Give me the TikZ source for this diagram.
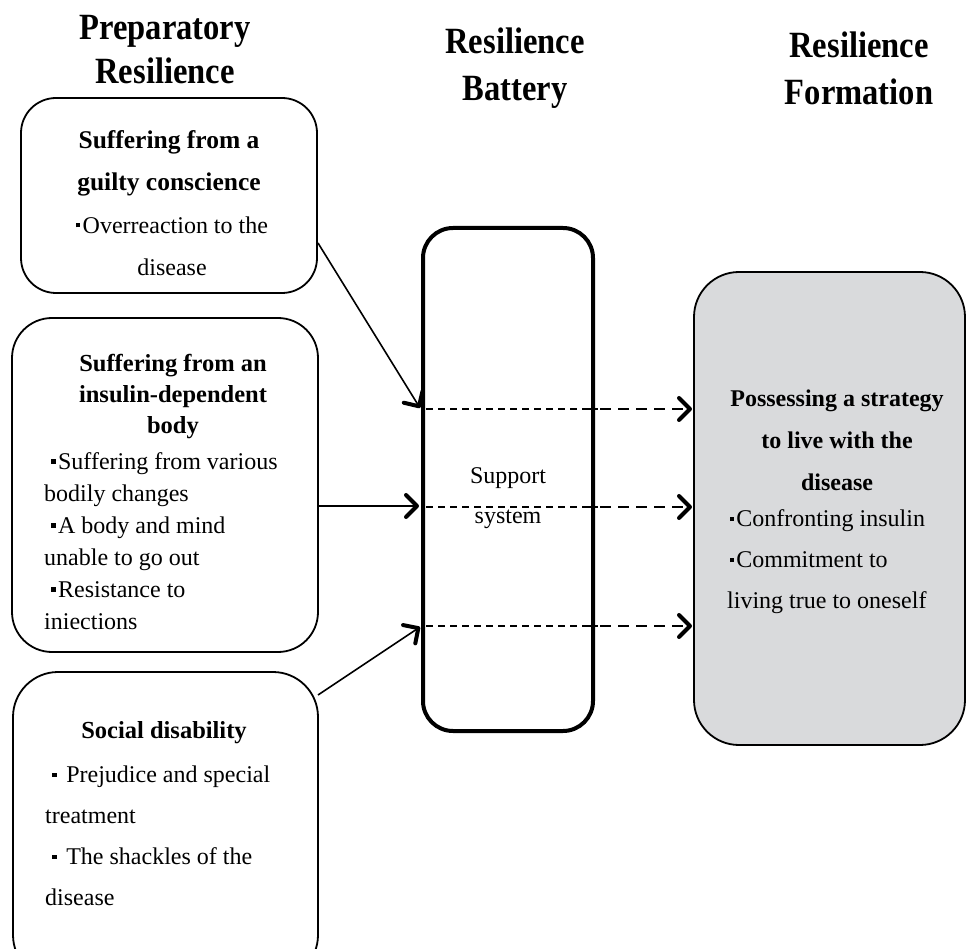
\documentclass[tikz,border=0pt]{standalone}
\usepackage{fontspec}
\setmainfont{Liberation Serif}
\newfontfamily\headfont[FakeStretch=0.88]{Liberation Serif}
\usetikzlibrary{arrows.meta}
\definecolor{boxgray}{HTML}{D9DADC}
\newcommand{\bul}{\rule[0.24em]{0.18em}{0.18em}\hspace{0.1em}}
\begin{document}
\begin{tikzpicture}[x=1pt,y=-1pt,
  head/.style={font={\headfont\bfseries\fontsize{37}{#1}\selectfont},align=center,inner sep=0pt},
  sidebox/.style={draw,line width=1.8pt,rounded corners=#1,inner sep=0pt},
  txt/.style={font={\fontsize{24}{#1}\selectfont},inner sep=0pt},
  btxt/.style={font={\bfseries\fontsize{25.5}{#1}\selectfont},inner sep=0pt},
  bstxt/.style={font={\bfseries\fontsize{24.5}{#1}\selectfont},inner sep=0pt},
  tip/.style={-{Straight Barb[length=11pt,width=22pt,line width=4pt,round]}},
  solidarrow/.style={line width=1.6pt,tip},
  innerdash/.style={line width=1.3pt,dash pattern=on 7pt off 5pt},
  outerdash/.style={line width=2.2pt,dash pattern=on 11pt off 7pt,tip}]
\useasboundingbox (0,0) rectangle (967,949);
\clip (0,0) rectangle (967,949);

% headers
\node[head=44] (h1) at (165,50) {Preparatory\\Resilience};
\node[head=47] (h2) at (515,68.5) {Resilience\\Battery};
\node[head=47] (h3) at (859,68.5) {Resilience\\Formation};

% left boxes
\node[sidebox=35,minimum width=296pt,minimum height=195pt] (b1) at (169,195.5) {};
\node[sidebox=40,minimum width=306pt,minimum height=334pt] (b2) at (165,485) {};
\node[sidebox=45,minimum width=305pt,minimum height=308pt] (b3) at (165.5,826) {};

% middle box
\node[draw,line width=4pt,rounded corners=30pt,minimum width=170pt,minimum height=503pt,inner sep=0pt] (sup) at (508,479.5) {};
% right box
\node[draw,line width=1.8pt,fill=boxgray,rounded corners=45pt,minimum width=271pt,minimum height=473pt,inner sep=0pt] (str) at (829.5,508.5) {};

% texts
\node[btxt=42,align=center] (t1a) at (169,163) {Suffering from a\\guilty conscience};
\node[txt=42,align=center] (t1b) at (172,246) {\bul Overreaction to the\\disease};
\node[bstxt=31,align=center] (t2a) at (173,397) {Suffering from an\\insulin-dependent\\body};
\node[txt=32,align=left,anchor=west] (t2b) at (44,541) {\hspace*{0.3em}\bul Suffering from various\\bodily changes\\\hspace*{0.3em}\bul A body and mind\\unable to go out\\\hspace*{0.3em}\bul Resistance to\\iniections};
\node[bstxt=42,align=center] (t3a) at (164,733) {Social disability};
\node[txt=41,align=left,anchor=west] (t3b) at (45,836) {\hspace*{0.3em}\bul\hspace{0.3em}Prejudice and special\\treatment\\\hspace*{0.3em}\bul\hspace{0.3em}The shackles of the\\disease};
\node[txt=40,align=center] (t5) at (508,498) {Support\\system};
\node[font={\bfseries\fontsize{24}{42}\selectfont},inner sep=0pt,align=center] (t4a) at (837,440) {Possessing a strategy\\to live with the\\disease};
\node[txt=41,align=left,anchor=west] (t4b) at (727,562) {\hspace*{0.1em}\bul Confronting insulin\\\hspace*{0.1em}\bul Commitment to\\living true to oneself};

% connector points
\coordinate (a1s) at (318,243);
\coordinate (a1e) at (420,408);
\coordinate (a2s) at (318,506);
\coordinate (a2e) at (419,506);
\coordinate (a3s) at (318,695);
\coordinate (a3e) at (420,627);
\draw[solidarrow] (a1s) -- (a1e);
\draw[solidarrow] (a2s) -- (a2e);
\draw[solidarrow] (a3s) -- (a3e);

\foreach \yy/\nm in {409/d1,507/d2,626/d3}{
  \coordinate (\nm s) at (426,\yy);
  \coordinate (\nm m) at (598,\yy);
  \coordinate (\nm n) at (582,\yy);
  \coordinate (\nm e) at (692,\yy);
  \draw[innerdash] (\nm s) -- (\nm m);
  \draw[outerdash] (\nm n) -- (\nm e);
}
\end{tikzpicture}
\end{document}
